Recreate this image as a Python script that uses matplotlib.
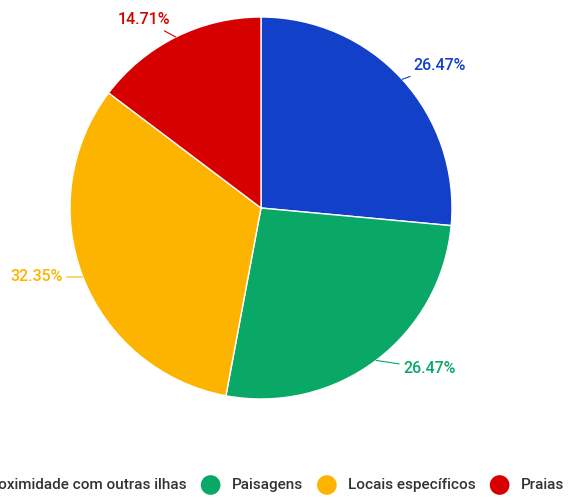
import matplotlib
matplotlib.use('Agg')
from matplotlib import pyplot as plt
import numpy as np

plt.rcParams['font.family'] = ['Roboto', 'DejaVu Sans']

categorias = ['Proximidade com outras ilhas', 'Paisagens', 'Locais específicos', 'Praias']
valores = [26.47, 26.47, 32.35, 14.71]
rotulos = ['26.47%', '26.47%', '32.35%', '14.71%']
cores = ['#1240c8', '#09a866', '#fdb400', '#d60000']

# posicao dos rotulos (coordenadas do grafico) e alinhamento
pos_rotulos = [(0.80, 0.745), (0.745, -0.84), (-1.04, -0.36), (-0.475, 0.985)]
alinh = ['left', 'left', 'right', 'right']

fig = plt.figure(figsize=(5.68, 5.01), dpi=100)
cx, cy, r = 261, 208, 191
ax = fig.add_axes([(cx - r) / 568, (501 - cy - r) / 501, 2 * r / 568, 2 * r / 501])

fatias, _ = ax.pie(valores, colors=cores, startangle=90, counterclock=False,
                   radius=1, wedgeprops=dict(edgecolor='white', linewidth=1))
ax.set_xlim(-1, 1)
ax.set_ylim(-1, 1)
ax.axis('off')

for fatia, rot, pos, ha, cor in zip(fatias, rotulos, pos_rotulos, alinh, cores):
    meio = np.deg2rad((fatia.theta1 + fatia.theta2) / 2)
    borda = (np.cos(meio), np.sin(meio))
    ax.annotate(rot, xy=borda, xytext=pos, ha=ha, va='center', fontsize=11.5,
                fontweight='medium', color=cor, annotation_clip=False,
                arrowprops=dict(arrowstyle='-', color=cor, lw=0.8,
                                shrinkA=1, shrinkB=0))

# legenda na parte de baixo, montada a mao (da direita para a esquerda)
leg = fig.add_axes([0, 0, 1, 1], zorder=-1)
leg.set_xlim(0, 568)
leg.set_ylim(501, 0)
leg.axis('off')
renderer = fig.canvas.get_renderer()

x = 564
ly = 485
for nome, cor in zip(reversed(categorias), reversed(cores)):
    t = leg.text(x, ly, nome, ha='right', va='center', fontsize=11,
                 fontweight='medium', color='#333333')
    w = t.get_window_extent(renderer).width
    xm = x - w - 21
    leg.scatter([xm], [ly], s=200, color=cor, edgecolors='none')
    x = xm - 24

fig.savefig('out.png', dpi=100)
